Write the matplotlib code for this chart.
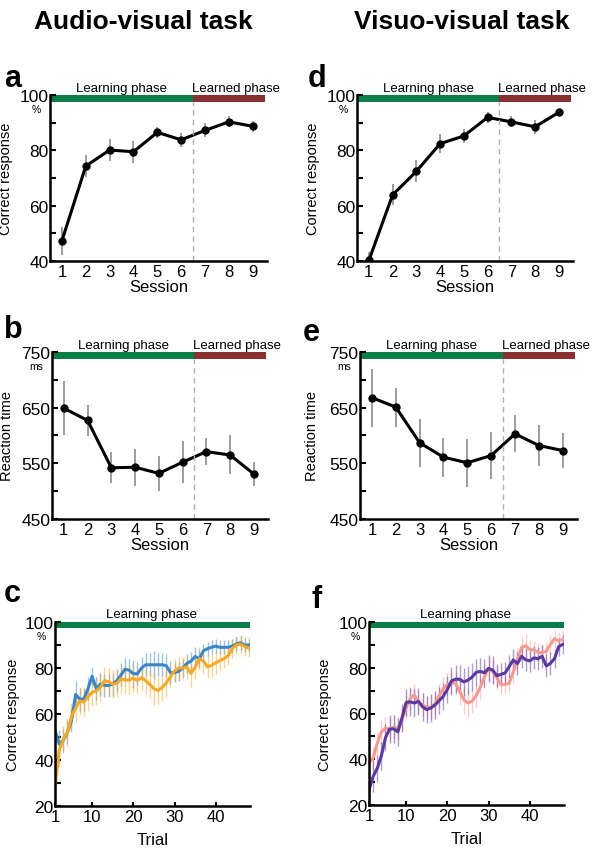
import matplotlib.pyplot as plt
import numpy as np

plt.rcParams['font.family'] = ['Liberation Sans', 'DejaVu Sans']

# session data (panels a, b, d, e)
sessions = np.arange(1, 10)
av_correct = [47.3, 74.3, 80.1, 79.5, 86.5, 83.8, 87.2, 90.3, 88.7]
av_correct_err = [5.0, 4.0, 4.0, 4.0, 2.0, 2.5, 2.5, 2.0, 2.0]
vv_correct = [40.2, 63.9, 72.4, 82.4, 85.2, 91.9, 90.3, 88.5, 93.7]
vv_correct_err = [3.0, 3.8, 4.0, 3.5, 2.5, 2.0, 2.0, 2.5, 1.0]
av_rt = [649, 627, 542, 543, 532, 552, 571, 565, 531]
av_rt_err = [49, 28, 28, 33, 32, 38, 24, 35, 22]
vv_rt = [668, 651, 587, 561, 551, 564, 603, 582, 573]
vv_rt_err = [52, 35, 43, 35, 43, 42, 33, 36, 31]

# trial data (panels c, f)
trials = np.arange(1, 49)
av_blue = [53, 47, 48.5, 52, 57, 68.5, 66.5, 66.5, 71, 76.4, 71, 73, 72.5, 72.4, 73, 74.5,
           77, 79.5, 79, 77.5, 77.5, 80, 81.4, 81.4, 81.4, 81.4, 81.4, 81, 78, 78, 78.5, 80,
           82, 83, 85, 84, 87.5, 88.4, 89, 89.5, 89, 89, 89, 89.5, 90.5, 91, 90, 90]
av_blue_err = [7, 6, 5, 5, 5, 6, 5, 5, 5, 4, 5, 5, 5, 5, 5, 5,
               5, 5, 5, 6, 5, 5, 5, 5, 6, 5, 5, 5, 5, 4, 4, 4,
               4, 4, 4, 4, 3, 3, 3, 3, 3, 3, 3, 3, 3, 3, 3, 3]
av_orange = [28, 44, 49, 52, 59, 62.5, 65.7, 65.2, 67.5, 69.4, 70, 71.6, 74.5, 74, 73, 73.3,
             75.3, 74.8, 74.8, 75.6, 74.6, 75.8, 74.5, 72.8, 71, 70.2, 71.6, 73.5, 76.2, 78.7, 80, 80,
             80.4, 77.7, 80.3, 84, 83, 80.5, 81.2, 82.3, 83.2, 84.1, 85.3, 88.5, 90, 90.4, 89.4, 88.6]
av_orange_err = [6, 7, 6, 6, 6, 6, 6, 6, 6, 6, 6, 6, 6, 6, 6, 6,
                 6, 6, 6, 6, 6, 6, 6, 6, 7, 6, 6, 6, 5, 5, 5, 5,
                 5, 6, 5, 5, 5, 5, 5, 5, 4, 4, 4, 4, 4, 4, 4, 4]
vv_purple = [26.6, 32.5, 36, 41.5, 49.4, 53.2, 53.3, 52, 58, 64.8, 65.1, 64.6, 65.3, 62.9, 61.7, 62.4,
             63.7, 65.6, 67.5, 70.5, 74.2, 75, 75, 73.8, 74.6, 75.9, 78, 78.4, 77.8, 79.7, 79, 76.5,
             77.1, 77.7, 80.5, 83.4, 81.8, 85, 83.5, 83, 84.3, 84, 85, 80.8, 81.9, 84, 89.2, 90.2]
vv_purple_err = [7, 7, 6, 6, 6, 6, 6, 6, 6, 6, 6, 6, 6, 6, 6, 6,
                 6, 6, 6, 6, 6, 6, 6, 6, 6, 6, 6, 6, 6, 6, 6, 5,
                 5, 5, 5, 5, 5, 5, 5, 5, 5, 5, 5, 5, 5, 4, 4, 4]
vv_pink = [38.3, 40.5, 47, 52, 53.6, 53.2, 54, 53.6, 57.5, 62.5, 66.6, 68.1, 65, 63.8, 62.6, 62.8,
           64.1, 67.8, 70.8, 72.6, 73.4, 73.2, 69.7, 66, 64.6, 65.4, 67.9, 71.5, 76, 79.6, 78.5, 75.7,
           72.7, 72.7, 73.2, 78.2, 83.5, 88.8, 89.6, 88, 87.8, 86.8, 86.5, 87.2, 90.2, 92.7, 91.8, 92.4]
vv_pink_err = [5, 5, 5, 5, 5, 5, 5, 5, 5, 5, 5, 5, 5, 5, 5, 5,
               5, 5, 5, 5, 5, 5, 6, 6, 6, 5, 5, 5, 5, 5, 5, 5,
               4, 4, 4, 5, 5, 5, 5, 4, 4, 4, 4, 4, 4, 4, 4, 4]

green = '#0b7d46'
red = '#8a2f30'
W, H = 603, 853

fig = plt.figure(figsize=(6.03, 8.53), dpi=100)


def px_axes(left, top, right, bottom):
    ax = fig.add_axes([left / W, 1 - bottom / H, (right - left) / W, (bottom - top) / H])
    ax.px = (left, top, right, bottom)
    return ax


def style(ax, yticks, minor, ylabel_x):
    for s in ['top', 'right']:
        ax.spines[s].set_visible(False)
    for s in ['left', 'bottom']:
        ax.spines[s].set_linewidth(1.8)
    ax.set_yticks(yticks)
    ax.set_yticks(minor, minor=True)
    ax.tick_params(axis='y', which='both', direction='in', length=4, width=1.5, labelsize=12.5, pad=1)
    ax.tick_params(axis='x', labelsize=12, pad=2)
    left, top, right, bottom = ax.px
    ax.yaxis.set_label_coords((ylabel_x - left) / (right - left), 0.5)


def unit_label(ax, text, ylim):
    # small unit text just under the top tick label
    left, top, right, bottom = ax.px
    y = ylim[1] - 9 * (ylim[1] - ylim[0]) / (bottom - top)
    ax.text(-9 / (right - left), y, text, transform=ax.get_yaxis_transform(),
            ha='right', va='top', fontsize=7.5)


def session_panel(ax, y, err, ylim, bar_h, yticks, minor, unit, ylabel, ylabel_x):
    ax.errorbar(sessions, y, yerr=err, fmt='none', ecolor='#8c8c8c', elinewidth=1.2)
    ax.plot(sessions, y, '-o', color='k', lw=2.2, ms=5)
    top = ylim[1]
    ax.fill_between([0.5, 6.5], top - bar_h, top, color=green, lw=0, clip_on=False)
    ax.fill_between([6.5, 9.5], top - bar_h, top, color=red, lw=0, clip_on=False)
    ax.plot([6.5, 6.5], [ylim[0], top - bar_h], color='#b0b0b0', lw=1, dashes=(4, 3))
    ax.text(3.5, top + bar_h * 0.15, 'Learning phase', ha='center', va='bottom', fontsize=9.5)
    ax.text(8.3, top + bar_h * 0.15, 'Learned phase', ha='center', va='bottom', fontsize=9.5)
    ax.set_xlim(0.5, 9.6)
    ax.set_ylim(ylim)
    unit_label(ax, unit, ylim)
    ax.set_xticks(sessions)
    style(ax, yticks, minor, ylabel_x)
    ax.tick_params(axis='x', length=0)
    ax.set_ylabel(ylabel, fontsize=10.5)
    ax.set_xlabel('Session', fontsize=12, labelpad=0)


def trial_panel(ax, s1, e1, c1, s2, e2, c2, ylabel_x):
    ax.errorbar(trials, s1, yerr=e1, fmt='none', ecolor=c1, elinewidth=1, alpha=0.5)
    ax.errorbar(trials, s2, yerr=e2, fmt='none', ecolor=c2, elinewidth=1, alpha=0.5)
    ax.plot(trials, s1, color=c1, lw=2.2)
    ax.plot(trials, s2, color=c2, lw=2.2)
    ax.fill_between([1, 48.3], 97.5, 100, color=green, lw=0, clip_on=False)
    ax.text(24.5, 100.8, 'Learning phase', ha='center', va='bottom', fontsize=9.5)
    ax.set_xlim(1, 48.3)
    ax.set_ylim(20, 100)
    unit_label(ax, '%', (20, 100))
    ax.set_xticks([1, 10, 20, 30, 40])
    style(ax, [20, 40, 60, 80, 100], [30, 50, 70, 90], ylabel_x)
    ax.tick_params(axis='x', direction='in', length=3, width=1.5)
    ax.set_ylabel('Correct response', fontsize=10.5)
    ax.set_xlabel('Trial', fontsize=12, labelpad=6)


ax_a = px_axes(50, 96, 267, 262)
session_panel(ax_a, av_correct, av_correct_err, (40, 100), 2.6, [40, 60, 80, 100], [50, 70, 90],
              '%', 'Correct response', 13)
ax_d = px_axes(357, 96, 573, 262)
session_panel(ax_d, vv_correct, vv_correct_err, (40, 100), 2.6, [40, 60, 80, 100], [50, 70, 90],
              '%', 'Correct response', 320)
ax_b = px_axes(52, 353, 268, 520)
session_panel(ax_b, av_rt, av_rt_err, (450, 750), 13, [450, 550, 650, 750], [500, 600, 700],
              'ms', 'Reaction time', 14)
ax_e = px_axes(360, 353, 577, 520)
session_panel(ax_e, vv_rt, vv_rt_err, (450, 750), 13, [450, 550, 650, 750], [500, 600, 700],
              'ms', 'Reaction time', 319)

ax_c = px_axes(55, 623, 250, 807)
trial_panel(ax_c, av_blue, av_blue_err, '#3b86c8', av_orange, av_orange_err, '#f5a927', 20)
ax_f = px_axes(369, 623, 564, 806)
trial_panel(ax_f, vv_pink, vv_pink_err, '#f59a92', vv_purple, vv_purple_err, '#5a3a9f', 332)

# titles and panel letters
fig.text(143 / W, 1 - 22 / H, 'Audio-visual task', ha='center', va='center', fontsize=19, fontweight='bold')
fig.text(462 / W, 1 - 22 / H, 'Visuo-visual task', ha='center', va='center', fontsize=19, fontweight='bold')
for letter, x, y in [('a', 4, 79), ('d', 308, 79), ('b', 4, 330), ('e', 303, 333),
                     ('c', 4, 594), ('f', 312, 600)]:
    fig.text(x / W, 1 - y / H, letter, ha='left', va='center', fontsize=22, fontweight='bold')

plt.savefig('out.png', dpi=100)
